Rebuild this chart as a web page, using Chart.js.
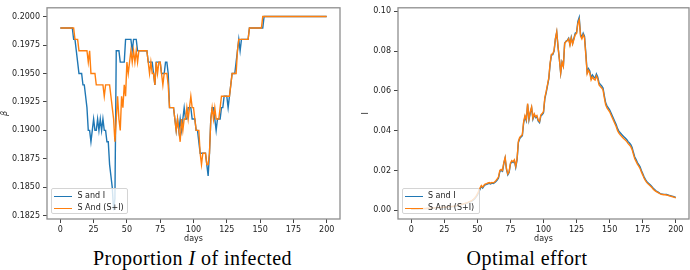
<!DOCTYPE html>
<html><head><meta charset="utf-8">
<script src="https://cdn.jsdelivr.net/npm/chart.js@4/dist/chart.umd.min.js"></script>
<style>
html,body{margin:0;padding:0;background:#fff;}
#wrap{position:relative;width:690px;height:270px;overflow:hidden;background:#fff;}
.cv{position:absolute;top:0;width:345px;height:245px;}
.legend{position:absolute;background:rgba(255,255,255,0.8);border:1px solid #d4d4d4;border-radius:2px;font-family:'DejaVu Sans';font-size:8px;color:#222;box-sizing:border-box;}
.item{position:absolute;left:0;height:10px;line-height:10px;white-space:nowrap;}
.swatch{position:absolute;top:4.5px;height:1.5px;width:18px;}
.txt{position:absolute;top:0;}
.caption{position:absolute;font-family:'Liberation Serif';font-size:20px;line-height:20px;letter-spacing:0.45px;color:#000;white-space:nowrap;transform:translateX(-50%);}
</style></head>
<body>
<div id="wrap">
  <canvas id="c1" class="cv" width="345" height="245" style="left:0"></canvas>
  <canvas id="c2" class="cv" width="345" height="245" style="left:345px"></canvas>
  <div id="leg1" class="legend" style="left:51px;top:188px;width:77px;height:26px"></div>
  <div id="leg2" class="legend" style="left:402px;top:188px;width:78px;height:26px"></div>
  <div class="caption" style="left:192.5px;top:248px">Proportion <i>I</i> of infected</div>
  <div class="caption" style="left:527px;top:248px">Optimal effort</div>
</div>
<script>
// ---- data ----
const days = Array.from({length: 201}, (_, i) => i);
const seriesNames = ['S and I', 'S And (S+I)'];
const colors = ['#1f77b4', '#ff7f0e'];
const xTicks = [0, 25, 50, 75, 100, 125, 150, 175, 200];
const betaTicks = [0.1825, 0.1850, 0.1875, 0.1900, 0.1925, 0.1950, 0.1975, 0.2000];
const effortTicks = [0.00, 0.02, 0.04, 0.06, 0.08, 0.10];

const betaSI = [
0.199,0.199,0.199,0.199,0.199,0.199,0.199,0.199,0.199,0.199,
0.198,0.198,0.197,0.196,0.195,0.195,0.195,0.194,0.194,0.193,
0.192,0.190,0.190,0.189,0.190,0.191,0.190,0.190,0.191,0.190,
0.191,0.190,0.191,0.190,0.190,0.189,0.189,0.187,0.186,0.185,
0.183,0.184,0.197,0.197,0.197,0.196,0.196,0.196,0.196,0.198,
0.198,0.198,0.198,0.198,0.197,0.198,0.198,0.198,0.197,0.197,
0.197,0.197,0.197,0.197,0.197,0.197,0.196,0.196,0.196,0.196,
0.195,0.194,0.196,0.196,0.196,0.196,0.195,0.195,0.195,0.196,
0.196,0.195,0.192,0.192,0.192,0.192,0.191,0.190,0.191,0.190,
0.191,0.190,0.191,0.192,0.191,0.191,0.192,0.192,0.192,0.191,
0.191,0.191,0.190,0.190,0.189,0.188,0.188,0.188,0.188,0.188,
0.187,0.186,0.188,0.191,0.192,0.192,0.191,0.190,0.191,0.191,
0.191,0.192,0.192,0.193,0.193,0.193,0.192,0.193,0.194,0.195,
0.195,0.195,0.196,0.197,0.198,0.197,0.198,0.198,0.198,0.198,
0.198,0.198,0.199,0.199,0.199,0.199,0.199,0.199,0.199,0.199,
0.199,0.199,0.199,0.200,0.200,0.200,0.200,0.200,0.200,0.200,
0.200,0.200,0.200,0.200,0.200,0.200,0.200,0.200,0.200,0.200,
0.200,0.200,0.200,0.200,0.200,0.200,0.200,0.200,0.200,0.200,
0.200,0.200,0.200,0.200,0.200,0.200,0.200,0.200,0.200,0.200,
0.200,0.200,0.200,0.200,0.200,0.200,0.200,0.200,0.200,0.200,
0.200];

const betaSSI = [
0.199,0.199,0.199,0.199,0.199,0.199,0.199,0.199,0.199,0.199,
0.199,0.198,0.198,0.198,0.197,0.197,0.197,0.197,0.197,0.197,
0.197,0.196,0.197,0.195,0.195,0.195,0.195,0.194,0.194,0.194,
0.194,0.194,0.194,0.193,0.194,0.194,0.194,0.194,0.193,0.192,
0.191,0.189,0.191,0.193,0.191,0.190,0.193,0.192,0.194,0.193,
0.196,0.195,0.196,0.197,0.196,0.197,0.196,0.197,0.196,0.197,
0.197,0.197,0.197,0.197,0.197,0.197,0.196,0.195,0.196,0.195,
0.195,0.194,0.196,0.195,0.196,0.196,0.195,0.194,0.195,0.195,
0.195,0.194,0.192,0.192,0.192,0.192,0.191,0.190,0.191,0.190,
0.189,0.191,0.190,0.191,0.191,0.192,0.191,0.192,0.193,0.192,
0.192,0.191,0.190,0.190,0.190,0.188,0.187,0.188,0.188,0.188,
0.187,0.187,0.188,0.191,0.192,0.191,0.192,0.191,0.191,0.191,
0.192,0.193,0.193,0.193,0.193,0.193,0.193,0.193,0.194,0.195,
0.195,0.195,0.195,0.197,0.198,0.198,0.198,0.198,0.198,0.198,
0.198,0.198,0.199,0.199,0.199,0.199,0.199,0.199,0.199,0.199,
0.199,0.199,0.200,0.200,0.200,0.200,0.200,0.200,0.200,0.200,
0.200,0.200,0.200,0.200,0.200,0.200,0.200,0.200,0.200,0.200,
0.200,0.200,0.200,0.200,0.200,0.200,0.200,0.200,0.200,0.200,
0.200,0.200,0.200,0.200,0.200,0.200,0.200,0.200,0.200,0.200,
0.200,0.200,0.200,0.200,0.200,0.200,0.200,0.200,0.200,0.200,
0.200];

const effortSI = [
0.0005,0.0005,0.0005,0.0006,0.0006,0.0006,0.0007,0.0007,0.0007,0.0008,
0.0008,0.0008,0.0009,0.0009,0.0009,0.0010,0.0010,0.0010,0.0011,0.0011,
0.0012,0.0012,0.0013,0.0013,0.0014,0.0014,0.0015,0.0015,0.0016,0.0017,
0.0017,0.0018,0.0019,0.0020,0.0021,0.0022,0.0024,0.0026,0.0028,0.0030,
0.0032,0.0034,0.0036,0.0038,0.0041,0.0044,0.0047,0.0052,0.0058,0.0066,
0.0076,0.0090,0.0106,0.0120,0.0112,0.0122,0.0128,0.0130,0.0133,0.0135,
0.0132,0.0136,0.0134,0.0138,0.0145,0.0152,0.0162,0.0195,0.0200,0.0196,
0.0235,0.0262,0.0205,0.0178,0.0190,0.0232,0.0245,0.0240,0.0250,0.0215,
0.0252,0.0340,0.0360,0.0368,0.0375,0.0440,0.0470,0.0450,0.0532,0.0455,
0.0490,0.0515,0.0458,0.0480,0.0465,0.0470,0.0448,0.0440,0.0475,0.0480,
0.0490,0.0560,0.0590,0.0625,0.0660,0.0735,0.0780,0.0782,0.0800,0.0860,
0.0895,0.0820,0.0760,0.0690,0.0745,0.0725,0.0840,0.0850,0.0855,0.0865,
0.0835,0.0870,0.0840,0.0865,0.0890,0.0895,0.0950,0.0970,0.0885,0.0870,
0.0890,0.0875,0.0790,0.0695,0.0712,0.0700,0.0665,0.0680,0.0670,0.0665,
0.0685,0.0670,0.0640,0.0632,0.0625,0.0615,0.0575,0.0540,0.0525,0.0515,
0.0505,0.0490,0.0475,0.0460,0.0445,0.0430,0.0410,0.0398,0.0390,0.0382,
0.0375,0.0368,0.0362,0.0355,0.0345,0.0338,0.0330,0.0315,0.0290,0.0268,
0.0255,0.0240,0.0230,0.0218,0.0200,0.0185,0.0168,0.0155,0.0145,0.0138,
0.0132,0.0126,0.0118,0.0110,0.0104,0.0098,0.0094,0.0090,0.0085,0.0082,
0.0081,0.0080,0.0080,0.0079,0.0077,0.0075,0.0073,0.0071,0.0069,0.0067,
0.0065];

const effortSSI = [
0.0006,0.0006,0.0006,0.0007,0.0007,0.0007,0.0008,0.0008,0.0008,0.0009,
0.0009,0.0009,0.0010,0.0010,0.0010,0.0011,0.0011,0.0011,0.0012,0.0012,
0.0013,0.0013,0.0014,0.0014,0.0015,0.0015,0.0016,0.0016,0.0017,0.0018,
0.0018,0.0019,0.0020,0.0021,0.0022,0.0023,0.0025,0.0027,0.0029,0.0031,
0.0033,0.0035,0.0037,0.0040,0.0043,0.0046,0.0050,0.0055,0.0062,0.0071,
0.0082,0.0096,0.0112,0.0124,0.0116,0.0126,0.0132,0.0134,0.0137,0.0139,
0.0136,0.0140,0.0138,0.0142,0.0149,0.0157,0.0168,0.0200,0.0205,0.0200,
0.0240,0.0266,0.0210,0.0183,0.0195,0.0237,0.0250,0.0244,0.0254,0.0220,
0.0258,0.0346,0.0366,0.0373,0.0380,0.0446,0.0476,0.0456,0.0537,0.0460,
0.0496,0.0520,0.0463,0.0485,0.0470,0.0476,0.0453,0.0446,0.0480,0.0486,
0.0496,0.0566,0.0596,0.0630,0.0665,0.0740,0.0784,0.0786,0.0804,0.0864,
0.0898,0.0822,0.0760,0.0690,0.0744,0.0724,0.0838,0.0848,0.0852,0.0862,
0.0830,0.0866,0.0836,0.0860,0.0884,0.0888,0.0940,0.0958,0.0876,0.0862,
0.0882,0.0866,0.0780,0.0686,0.0703,0.0690,0.0655,0.0670,0.0660,0.0655,
0.0675,0.0660,0.0630,0.0622,0.0615,0.0605,0.0565,0.0530,0.0515,0.0505,
0.0495,0.0480,0.0465,0.0450,0.0435,0.0420,0.0400,0.0388,0.0380,0.0372,
0.0365,0.0358,0.0352,0.0345,0.0335,0.0328,0.0320,0.0305,0.0281,0.0259,
0.0246,0.0232,0.0222,0.0210,0.0193,0.0178,0.0162,0.0150,0.0140,0.0133,
0.0127,0.0121,0.0114,0.0106,0.0100,0.0095,0.0091,0.0087,0.0083,0.0080,
0.0079,0.0078,0.0078,0.0077,0.0075,0.0073,0.0071,0.0069,0.0067,0.0065,
0.0063];

// ---- drawing ----
const tickFont = {family: 'DejaVu Sans', size: 8};
const frame = {
  id: 'frame',
  afterDatasetsDraw(chart) {
    const {ctx, chartArea: a} = chart;
    ctx.save();
    ctx.strokeStyle = '#8e8e8e';
    ctx.lineWidth = 1.3;
    ctx.strokeRect(a.left, a.top, a.right - a.left, a.bottom - a.top);
    ctx.restore();
  }
};

function makeChart(id, seriesList, cfg) {
  const datasets = seriesList.map((vals, k) => ({
    label: seriesNames[k],
    data: days.map((d, i) => ({x: d, y: vals[i]})),
    borderColor: colors[k],
    backgroundColor: colors[k],
    borderWidth: 1.4,
    pointRadius: 0,
    tension: 0,
    fill: false,
    order: seriesList.length - k
  }));
  return new Chart(document.getElementById(id), {
    type: 'line',
    data: {datasets},
    plugins: [frame],
    options: {
      responsive: false,
      animation: false,
      devicePixelRatio: 1,
      layout: {padding: {left: 0, right: cfg.padRight, top: 2, bottom: 0}},
      plugins: {legend: {display: false}, tooltip: {enabled: false}},
      scales: {
        x: {
          type: 'linear', min: -10, max: 210,
          afterBuildTicks: s => { s.ticks = xTicks.map(v => ({value: v})); },
          afterFit: s => { s.height = 26; },
          ticks: {font: tickFont, color: '#222', padding: 2, maxRotation: 0, autoSkip: false, callback: v => String(v)},
          grid: {display: true, drawOnChartArea: false, drawTicks: true, tickLength: 4, tickColor: '#444', tickWidth: 1},
          border: {display: false},
          title: {display: true, text: 'days', font: tickFont, color: '#222', padding: {top: 0, bottom: 1}}
        },
        y: {
          type: 'linear', min: cfg.yMin, max: cfg.yMax,
          afterBuildTicks: s => { s.ticks = cfg.yTicks.map(v => ({value: v})); },
          afterFit: s => { s.width = cfg.yWidth; },
          ticks: {font: tickFont, color: '#222', padding: 3, autoSkip: false, callback: v => v.toFixed(cfg.digits)},
          grid: {display: true, drawOnChartArea: false, drawTicks: true, tickLength: 4, tickColor: '#444', tickWidth: 1},
          border: {display: false},
          title: {display: true, text: cfg.yTitle, font: {family: 'DejaVu Sans', size: 8, style: cfg.yStyle}, color: '#222', padding: {top: cfg.yTitlePad, bottom: 0}}
        }
      }
    }
  });
}

makeChart('c1', [betaSI, betaSSI], {
  yMin: 0.18222, yMax: 0.20077, yTicks: betaTicks, digits: 4, yWidth: 47, padRight: 5,
  yTitle: 'β', yStyle: 'italic', yTitlePad: 0
});
makeChart('c2', [effortSI, effortSSI], {
  yMin: -0.0044, yMax: 0.1018, yTicks: effortTicks, digits: 2, yWidth: 53, padRight: 1,
  yTitle: 'I', yStyle: 'normal', yTitlePad: 16
});

function buildLegend(id, swLeft, txtLeft) {
  const box = document.getElementById(id);
  seriesNames.forEach((name, k) => {
    const item = document.createElement('div');
    item.className = 'item';
    item.style.top = (2 + k * 12.3) + 'px';
    item.style.width = '100%';
    const sw = document.createElement('div');
    sw.className = 'swatch';
    sw.style.left = swLeft + 'px';
    sw.style.background = colors[k];
    const tx = document.createElement('div');
    tx.className = 'txt';
    tx.style.left = txtLeft + 'px';
    tx.textContent = name;
    item.appendChild(sw); item.appendChild(tx);
    box.appendChild(item);
  });
}
buildLegend('leg1', 2, 25.5);
buildLegend('leg2', 2, 25);
</script>
</body></html>
